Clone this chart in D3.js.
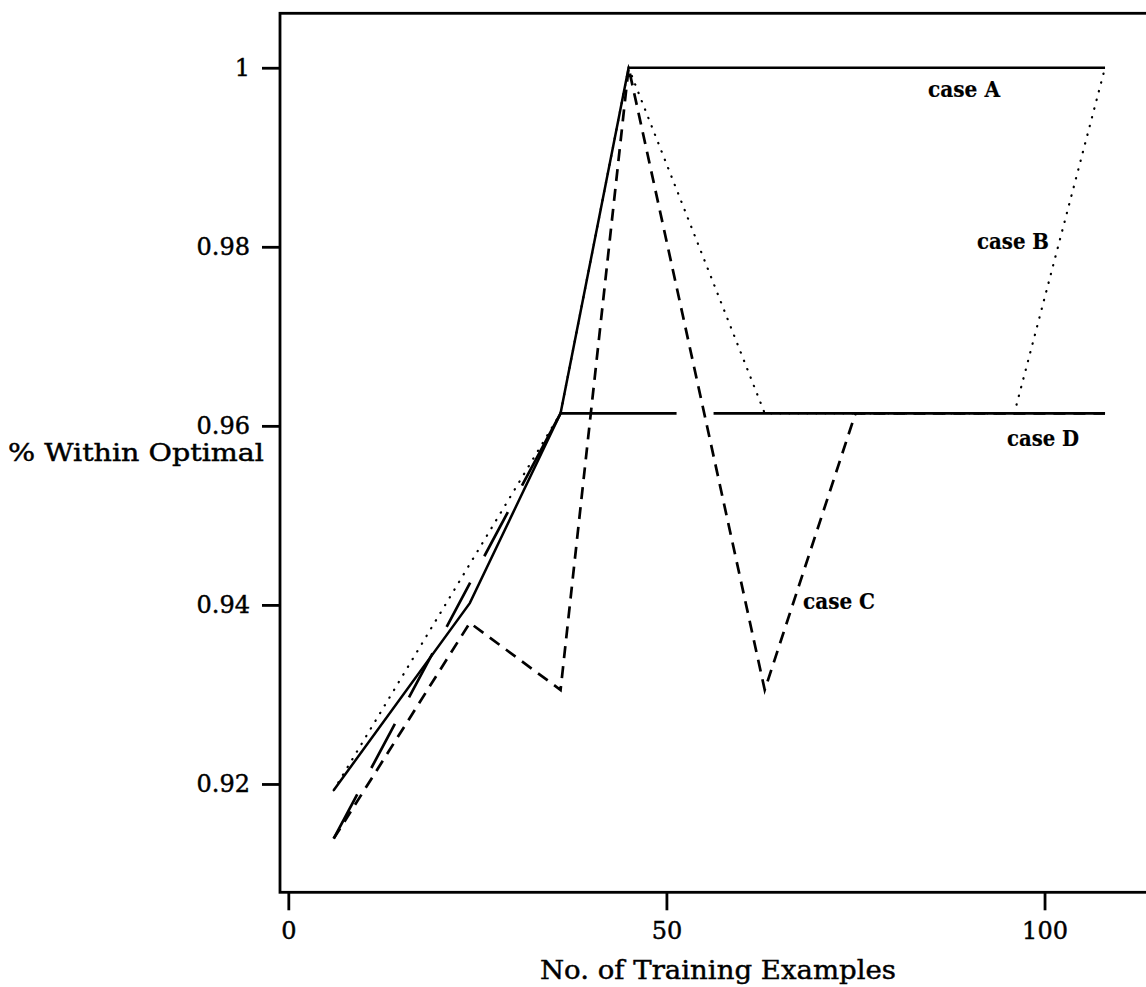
<!DOCTYPE html>
<html>
<head>
<meta charset="utf-8">
<script src="https://cdn.jsdelivr.net/npm/d3@7"></script>
<style>
  html, body { margin: 0; padding: 0; background: #fff; }
  svg { display: block; }
  text { font-family: "DejaVu Serif", "Liberation Serif", serif; fill: #000; stroke: #000; stroke-width: 0.45px; }
</style>
</head>
<body>
<svg id="chart" width="1146" height="987"></svg>
<script>
// Training-set size (x) for each case
const xCaseA = [6, 24, 36, 45, 108];
const xCaseB = [6, 36, 45, 63, 96, 108];
const xCaseC = [6, 24, 36, 45, 63, 75, 108];
const xCaseD = [6, 36, 108];

// Fraction of runs within optimal (y) for each case
const yCaseA = [0.9193, 0.9402, 0.9614, 1.0, 1.0];
const yCaseB = [0.9193, 0.9614, 1.0, 0.9614, 0.9614, 1.0];
const yCaseC = [0.9139, 0.9380, 0.9305, 1.0, 0.9305, 0.9614, 0.9614];
const yCaseD = [0.9139, 0.9614, 0.9614];

// Axis ticks
const xTickValues = [0, 50, 100];
const xTickLabels = ["0", "50", "100"];
const yTickValues = [0.92, 0.94, 0.96, 0.98, 1];
const yTickLabels = ["0.92", "0.94", "0.96", "0.98", "1"];

// Curve labels
const caseNames = ["case A", "case B", "case C", "case D"];

const svg = d3.select("#chart");

const plot = { left: 280, right: 1162.5, top: 13.3, bottom: 892.3 };

const x = d3.scaleLinear().domain([-1.1, 115.6]).range([plot.left, plot.right]);
const y = d3.scaleLinear().domain([0.9079, 1.00608]).range([plot.bottom, plot.top]);

// Frame
svg.append("rect")
  .attr("x", plot.left).attr("y", plot.top)
  .attr("width", plot.right - plot.left).attr("height", plot.bottom - plot.top)
  .attr("fill", "none").attr("stroke", "#000").attr("stroke-width", 2.8);

// Axes
const yAxis = d3.axisLeft(y)
  .tickValues(yTickValues)
  .tickFormat((d, i) => yTickLabels[i])
  .tickSize(18).tickPadding(12);

const xAxis = d3.axisBottom(x)
  .tickValues(xTickValues)
  .tickFormat((d, i) => xTickLabels[i])
  .tickSize(18).tickPadding(12);

const gy = svg.append("g").attr("transform", `translate(${plot.left},0)`).call(yAxis);
const gx = svg.append("g").attr("transform", `translate(0,${plot.bottom})`).call(xAxis);

[gx, gy].forEach(g => {
  g.select(".domain").remove();
  g.selectAll(".tick line").attr("stroke", "#000").attr("stroke-width", 2.8);
  g.selectAll(".tick text")
    .attr("fill", "#000")
    .style("font-family", '"DejaVu Serif", serif')
    .style("font-size", "24px");
});

// Axis titles
svg.append("text")
  .attr("x", 264).attr("y", 461)
  .attr("text-anchor", "end")
  .attr("textLength", 256).attr("lengthAdjust", "spacingAndGlyphs")
  .style("font-size", "24px")
  .text("% Within Optimal");

svg.append("text")
  .attr("x", 540).attr("y", 979)
  .attr("textLength", 356).attr("lengthAdjust", "spacingAndGlyphs")
  .style("font-size", "26px")
  .text("No. of Training Examples");

// Series
const line = d3.line().x(d => x(d[0])).y(d => y(d[1]));
const pts = (xs, ys) => xs.map((v, i) => [v, ys[i]]);

const series = [
  { xs: xCaseC, ys: yCaseC, width: 2.7, dash: "12,8", cap: "butt" },
  { xs: xCaseB, ys: yCaseB, width: 2.2, dash: "0.4,8.6", cap: "round" },
  { xs: xCaseD, ys: yCaseD, width: 2.7, dash: "50,30,50,30,50,30,50,30,50,30,198,37,2000", cap: "butt" },
  { xs: xCaseA, ys: yCaseA, width: 2.5, dash: null, cap: "butt" }
];

series.forEach(s => {
  svg.append("path")
    .datum(pts(s.xs, s.ys))
    .attr("d", line)
    .attr("fill", "none")
    .attr("stroke", "#000")
    .attr("stroke-width", s.width)
    .attr("stroke-linecap", s.cap)
    .attr("stroke-linejoin", "miter")
    .attr("stroke-dasharray", s.dash);
});

// Curve labels
const labelPos = [
  { x: 928, y: 97 },
  { x: 977, y: 249 },
  { x: 803, y: 609 },
  { x: 1007, y: 446 }
];
caseNames.forEach((name, i) => {
  svg.append("text")
    .attr("x", labelPos[i].x).attr("y", labelPos[i].y)
    .attr("textLength", 72).attr("lengthAdjust", "spacingAndGlyphs")
    .style("font-size", "22px")
    .style("font-weight", "bold")
    .style("stroke-width", "0.2px")
    .text(name);
});
</script>
</body>
</html>
